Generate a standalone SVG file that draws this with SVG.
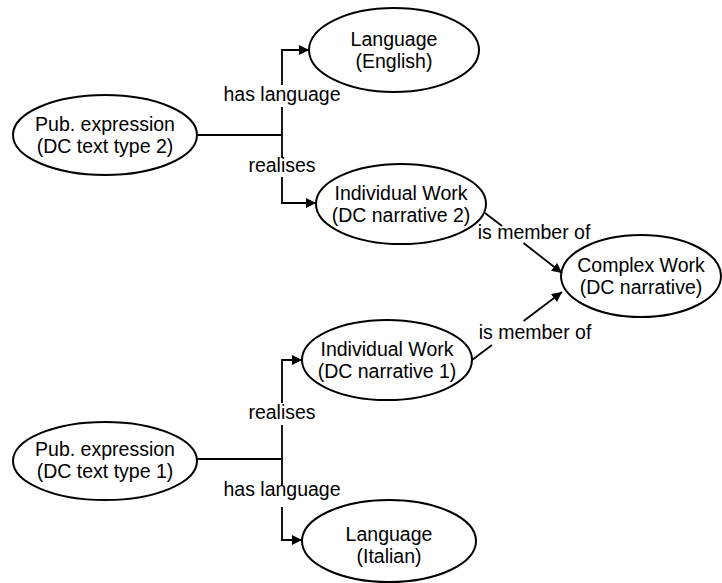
<svg xmlns="http://www.w3.org/2000/svg" width="722" height="583" viewBox="0 0 722 583">
<style>
.node ellipse{fill:#fff;stroke:#000;stroke-width:2}
text{font-family:"Liberation Sans",Arial,Helvetica,sans-serif;font-size:19.5px;fill:#000;text-anchor:middle}
.conn path{fill:none;stroke:#000;stroke-width:1.8}
</style>
<defs>
<marker id="arr" viewBox="0 0 10 10" refX="10" refY="5" markerWidth="11" markerHeight="10" markerUnits="userSpaceOnUse" orient="auto">
<path d="M0,0 L10,5 L0,10 z" fill="#000"/>
</marker>
</defs>
<g id="connectors" class="conn">
<path d="M197,135 H282"/>
<path d="M282,85 V50 H309" marker-end="url(#arr)"/>
<path d="M282,107 V158"/>
<path d="M282,177 V203 H316" marker-end="url(#arr)"/>
<path d="M197,459 H282"/>
<path d="M282,403 V360 H302" marker-end="url(#arr)"/>
<path d="M282,425 V485"/>
<path d="M282,507 V540 H302" marker-end="url(#arr)"/>
<path d="M485,213 L502,226"/>
<path d="M523.5,243 L562,273" marker-end="url(#arr)"/>
<path d="M472,360 L492,345"/>
<path d="M523.6,321 L562,292" marker-end="url(#arr)"/>
<text x="282" y="101">has language</text>
<text x="282" y="172">realises</text>
<text x="282" y="419">realises</text>
<text x="282" y="496">has language</text>
<text x="534" y="239">is member of</text>
<text x="535" y="339">is member of</text>
</g>
<g id="pub2" class="node">
<ellipse cx="105" cy="135" rx="92" ry="40"/>
<text x="105" y="131">Pub. expression</text>
<text x="105" y="153">(DC text type 2)</text>
</g>
<g id="lang-en" class="node">
<ellipse cx="394" cy="50" rx="85" ry="42"/>
<text x="394" y="46">Language</text>
<text x="394" y="68">(English)</text>
</g>
<g id="work2" class="node">
<ellipse cx="401" cy="204" rx="85" ry="40"/>
<text x="401" y="200">Individual Work</text>
<text x="401" y="222">(DC narrative 2)</text>
</g>
<g id="complex" class="node">
<ellipse cx="641" cy="276" rx="80" ry="41"/>
<text x="641" y="272">Complex Work</text>
<text x="641" y="294">(DC narrative)</text>
</g>
<g id="work1" class="node">
<ellipse cx="387" cy="360" rx="85" ry="40"/>
<text x="387" y="356">Individual Work</text>
<text x="387" y="378">(DC narrative 1)</text>
</g>
<g id="pub1" class="node">
<ellipse cx="105" cy="461" rx="92" ry="39"/>
<text x="105" y="456">Pub. expression</text>
<text x="105" y="478">(DC text type 1)</text>
</g>
<g id="lang-it" class="node">
<ellipse cx="389" cy="541" rx="87" ry="41"/>
<text x="389" y="541">Language</text>
<text x="389" y="563">(Italian)</text>
</g>
</svg>
